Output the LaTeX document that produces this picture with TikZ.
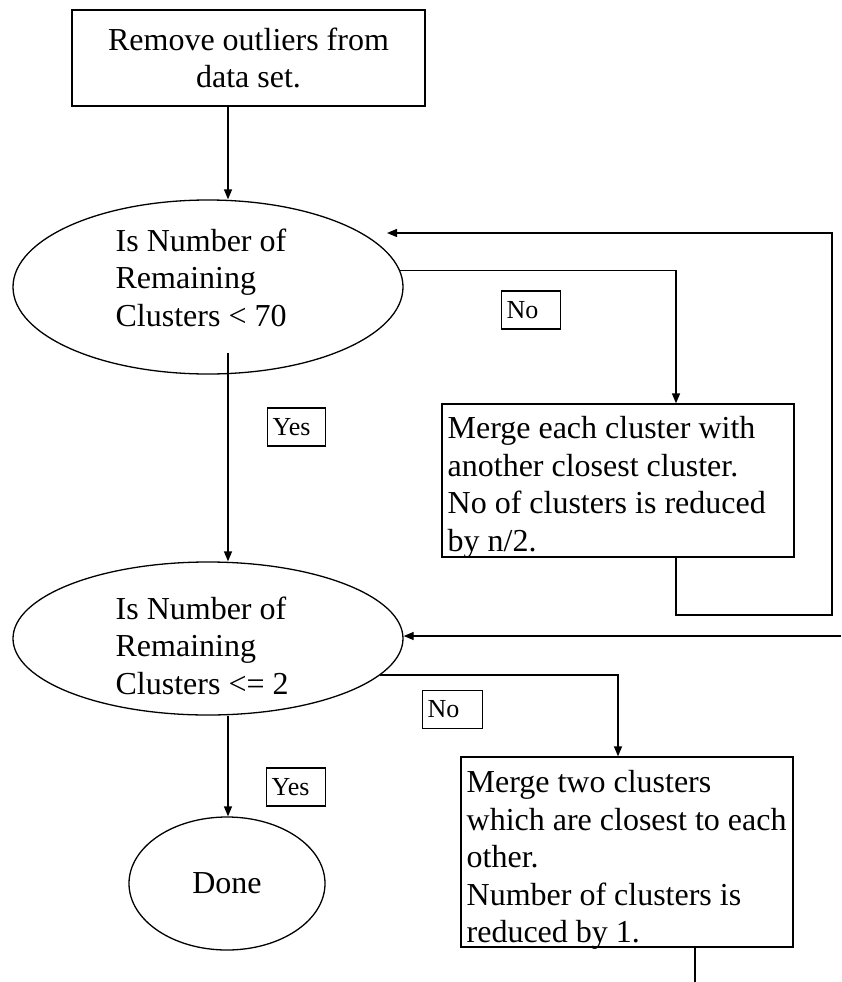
\documentclass[tikz,border=0pt]{standalone}
\usepackage{fontspec}
\setmainfont{Liberation Serif}
\usetikzlibrary{arrows.meta,calc,shapes.geometric}
\begin{document}
\begin{tikzpicture}[x=1pt,y=-1pt,
  line width=1.3pt,
  arr/.style={-{Triangle[length=10pt,width=8pt]}},
  procbox/.style={draw, rectangle, inner sep=0pt},
  oval/.style={draw, ellipse, inner sep=0pt},
  bigtxt/.style={font=\fontsize{32}{37.5}\selectfont, inner sep=0pt, align=left, anchor=north west},
  tag/.style={draw, rectangle, font=\fontsize{26}{30}\selectfont, inner xsep=5pt, inner ysep=0pt, minimum height=38pt, align=left, anchor=west},
]
\useasboundingbox (0,0) rectangle (841,982);

% nodes
\node[procbox, minimum width=353pt, minimum height=96pt, align=center, font=\fontsize{32}{37.5}\selectfont] (tb) at (248.5,58) {Remove outliers from\\data set.};
\node[oval, minimum width=390pt, minimum height=174pt] (e1) at (208,287) {};
\node[bigtxt] (t1) at (115,228) {Is Number of\\Remaining\\Clusters < 70};
\node[oval, minimum width=390pt, minimum height=153pt] (e2) at (208,638.5) {};
\node[bigtxt] (t2) at (115,596) {Is Number of\\Remaining\\Clusters <= 2};
\node[oval, minimum width=196pt, minimum height=133pt, font=\fontsize{32}{37.5}\selectfont] (done) at (227,883.5) {Done};
\node[procbox, minimum width=352pt, minimum height=153pt] (b2) at (618,480.5) {};
\node[bigtxt] (t3) at (447,416) {Merge each cluster with\\another closest cluster.\\No of clusters is reduced\\by n/2.};
\node[procbox, minimum width=332pt, minimum height=190pt] (b3) at (627,852) {};
\node[bigtxt] (t4) at (466,770) {Merge two clusters\\which are closest to each\\other.\\Number of clusters is\\reduced by 1.};

% labels
\node[tag, text width=49pt] (no1) at (501,310) {No};
\node[tag, text width=48pt] (yes1) at (267,427) {Yes};
\node[tag, text width=50pt] (no2) at (422,709.5) {No};
\node[tag, text width=49pt] (yes2) at (266,787) {Yes};

% helper coordinates
\coordinate (cx) at (228,0);
\coordinate (k1) at (676,0);
\coordinate (k2) at (832,615);
\coordinate (t1end) at (387,233);
\coordinate (k3) at (618,0);
\coordinate (r2) at (841,636);
\coordinate (k4) at (695,982);

% connectors
\draw[arr] (tb.south -| cx) -- (e1.north -| cx);
\draw[arr] (e1.5) -- (e1.5 -| k1) -- (k1 |- b2.north);
\draw[arr] (b2.south -| k1) -- (k1 |- k2) -- (k2) -- (k2 |- t1end) -- (t1end);
\draw[arr] ($(e1.south -| cx)+(0,-22)$) -- (e2.north -| cx);
\draw[arr] (r2) -- (r2 -| e2.east);
\draw[arr] (e2.-12) -- (e2.-12 -| k3) -- (k3 |- b3.north);
\draw[arr] (e2.south -| cx) -- (done.north -| cx);
\draw (b3.south -| k4) -- (k4);
\end{tikzpicture}
\end{document}
